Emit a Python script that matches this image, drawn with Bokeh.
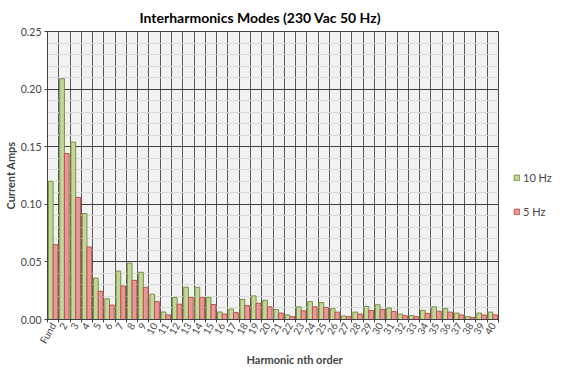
from bokeh.plotting import figure
from bokeh.layouts import row
from bokeh.models import (ColumnDataSource, Range1d, FixedTicker, SingleIntervalTicker,
                          NumeralTickFormatter, Legend, LegendItem, Title)
from bokeh.transform import dodge
from bokeh.embed import file_html
from bokeh.resources import INLINE

categories = ["Fund"] + [str(i) for i in range(2, 41)]
hz10 = [0.120, 0.209, 0.154, 0.092, 0.036, 0.018, 0.042, 0.049, 0.041, 0.022,
        0.0065, 0.019, 0.028, 0.028, 0.019, 0.0065, 0.009, 0.0175, 0.0205, 0.0167,
        0.0086, 0.004, 0.011, 0.0155, 0.0147, 0.0094, 0.003, 0.0064, 0.0114, 0.0128,
        0.010, 0.0047, 0.0033, 0.008, 0.011, 0.0094, 0.0056, 0.0025, 0.0056, 0.0064]
hz5 = [0.065, 0.144, 0.106, 0.063, 0.0245, 0.0125, 0.029, 0.034, 0.028, 0.0155,
       0.004, 0.0133, 0.019, 0.019, 0.013, 0.0047, 0.006, 0.012, 0.014, 0.011,
       0.0056, 0.0025, 0.0075, 0.011, 0.0105, 0.0064, 0.0025, 0.0047, 0.0078, 0.0086,
       0.007, 0.0033, 0.0025, 0.0053, 0.0072, 0.0064, 0.004, 0.0017, 0.0039, 0.004]
series_names = ["10 Hz", "5 Hz"]

FONT = "Lato"
GREEN_FILL, GREEN_LINE = "#c3d69b", "#77933c"
RED_FILL, RED_LINE = "#e39a99", "#c0504d"
idx = list(range(len(categories)))
src = ColumnDataSource(dict(x=idx, a=hz10, b=hz5))

p = figure(width=499, height=364, output_backend="svg", toolbar_location=None,
           x_range=Range1d(-0.5, len(categories) - 0.5), y_range=Range1d(0, 0.25),
           min_border_left=30, min_border_top=0, min_border_bottom=0, min_border_right=1)
p.title.text = "Interharmonics Modes (230 Vac 50 Hz)"
p.title.align = "left"
p.title.offset = 92
p.title.text_font = FONT
p.title.text_font_size = "14px"
p.title.text_font_style = "bold"
p.title.text_color = "#000000"
p.title.standoff = 12

p.background_fill_color = "#f2f2f2"
p.border_fill_color = "white"
p.outline_line_color = "#404040"
p.outline_line_width = 1

r1 = p.vbar(x=dodge("x", -0.21), top="a", width=0.42, source=src,
            fill_color=GREEN_FILL, line_color=GREEN_LINE, line_width=1)
r2 = p.vbar(x=dodge("x", 0.21), top="b", width=0.42, source=src,
            fill_color=RED_FILL, line_color=RED_LINE, line_width=1)

boundaries = [i - 0.5 for i in range(len(categories) + 1)]
xax = p.xaxis[0]
xax.ticker = FixedTicker(ticks=idx, minor_ticks=boundaries)
xax.major_label_overrides = {i: c for i, c in enumerate(categories)}
xax.major_label_orientation = 1.05
xax.major_tick_line_color = None
xax.major_tick_out = 0
xax.major_tick_in = 0
xax.minor_tick_line_color = "#404040"
xax.minor_tick_in = 0
xax.minor_tick_out = 3
xax.axis_line_color = "#404040"
xax.major_label_text_font = FONT
xax.major_label_text_font_size = "10px"
xax.major_label_standoff = 1

xlabel = Title(text="Harmonic nth order", align="left", offset=199,
               text_font=FONT, text_font_style="bold", text_font_size="11px",
               standoff=-2, text_line_height=1.0)
p.add_layout(xlabel, "below")

yax = p.yaxis[0]
yax.ticker = SingleIntervalTicker(interval=0.05, num_minor_ticks=5)
yax.formatter = NumeralTickFormatter(format="0.00")
yax.minor_tick_line_color = None
yax.major_tick_in = 0
yax.major_tick_out = 3
yax.major_tick_line_color = "#404040"
yax.axis_line_color = "#404040"
yax.major_label_text_font = FONT
yax.major_label_text_font_size = "10.5px"
yax.major_label_standoff = 2
yax.axis_label = "Current Amps"
yax.axis_label_text_font = FONT
yax.axis_label_text_font_style = "bold"
yax.axis_label_text_font_size = "11px"
yax.axis_label_standoff = 1

p.xgrid.ticker = FixedTicker(ticks=boundaries)
p.xgrid.grid_line_color = "#595959"
p.xgrid.grid_line_width = 1
p.ygrid.grid_line_color = "#404040"
p.ygrid.minor_grid_line_color = "#d9d9d9"

# side figure holding the legend (its dummy bars lie outside its ranges)
q = figure(width=55, height=364, output_backend="svg", toolbar_location=None,
           x_axis_location=None, y_axis_location=None,
           x_range=Range1d(0, 1), y_range=Range1d(0, 1),
           min_border=0, outline_line_color=None)
q.grid.visible = False
lg1 = q.vbar(x=[5], top=[5], bottom=[4], width=0.5, fill_color=GREEN_FILL, line_color=GREEN_LINE)
lg2 = q.vbar(x=[5], top=[5], bottom=[4], width=0.5, fill_color=RED_FILL, line_color=RED_LINE)
legend = Legend(items=[LegendItem(label=series_names[0], renderers=[lg1]),
                       LegendItem(label=series_names[1], renderers=[lg2])],
                location=(14, 101), orientation="vertical")
legend.label_text_font = FONT
legend.label_text_font_size = "11px"
legend.glyph_width = 7
legend.glyph_height = 7
legend.label_height = 14
legend.spacing = 20
legend.padding = 0
legend.margin = 0
legend.label_standoff = 3
legend.border_line_color = None
legend.background_fill_alpha = 0
q.add_layout(legend, "center")

layout = row(p, q, spacing=0)
open("out.html", "w").write(file_html(layout, INLINE))
